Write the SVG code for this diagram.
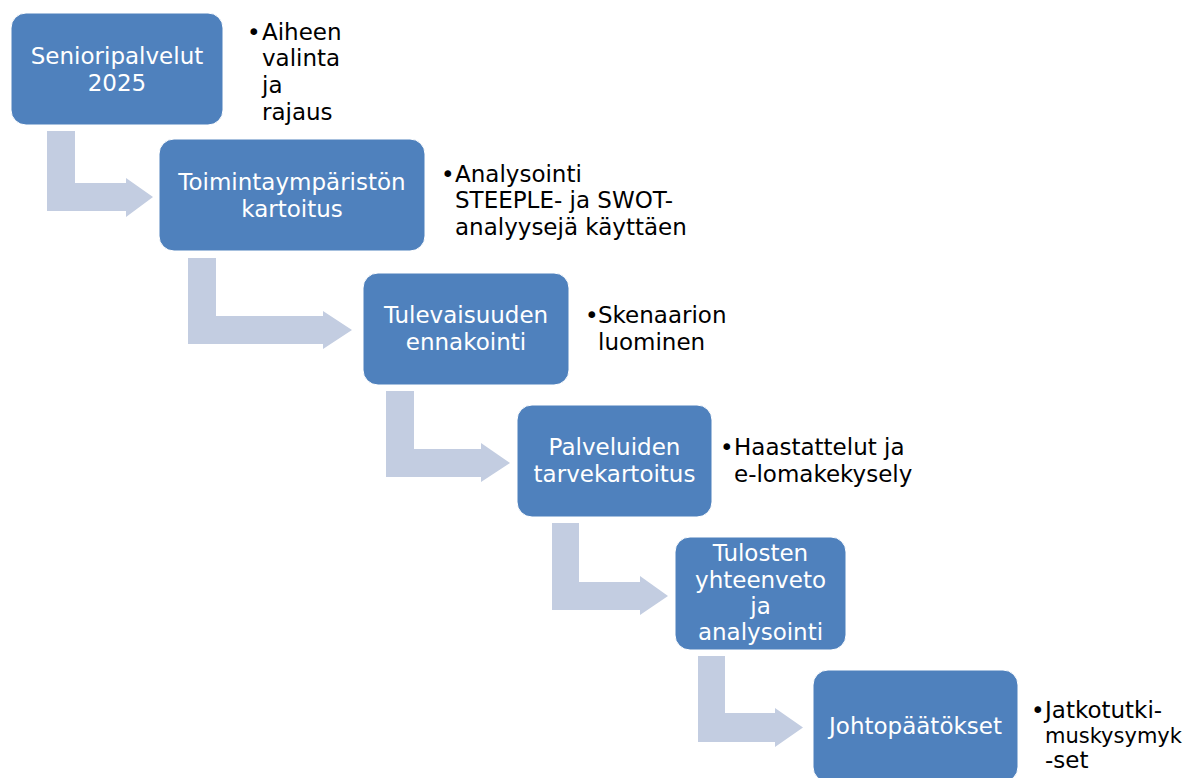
<svg xmlns="http://www.w3.org/2000/svg" width="1192" height="778" viewBox="0 0 1192 778">
<style>
.box{fill:#4F81BD;stroke:#FFFFFF;stroke-width:1}
.arr{fill:#C3CDE1}
.bt{font-family:"DejaVu Sans",Verdana,sans-serif;font-size:23px;fill:#FFFFFF;text-anchor:middle}
.nt{font-family:"DejaVu Sans",Verdana,sans-serif;font-size:23px;fill:#000000}
</style>
<rect width="1192" height="778" fill="#FFFFFF"/>
<g id="connectors">
<path class="arr" d="M47,131 H75 V183 H126 V178 L153,197 L126,217 V211 H47 Z"/>
<path class="arr" d="M188,258 H216 V316 H323 V311 L352,330 L323,349 V344 H188 Z"/>
<path class="arr" d="M386,391 H414 V449 H481 V443 L510,463 L481,482 V477 H386 Z"/>
<path class="arr" d="M552,523 H579 V582 H640 V576 L668,596 L640,615 V610 H552 Z"/>
<path class="arr" d="M698,656 H725 V713 H775 V708 L803,727.5 L775,747 V742 H698 Z"/>
</g>
<g id="n1">
<rect class="box" x="11" y="13" width="212" height="112" rx="15"/>
<text class="bt" x="117" y="64">Senioripalvelut</text>
<text class="bt" x="117" y="91">2025</text>
</g>
<g id="t1">
<text class="nt" x="247" y="40">•</text>
<text class="nt" x="262" y="40">Aiheen</text>
<text class="nt" x="262" y="66">valinta</text>
<text class="nt" x="262" y="93">ja</text>
<text class="nt" x="262" y="120">rajaus</text>
</g>
<g id="n2">
<rect class="box" x="159" y="139" width="266" height="112" rx="15"/>
<text class="bt" x="292" y="190">Toimintaympäristön</text>
<text class="bt" x="292" y="217">kartoitus</text>
</g>
<g id="t2">
<text class="nt" x="441" y="182">•</text>
<text class="nt" x="455" y="182">Analysointi</text>
<text class="nt" x="455" y="208">STEEPLE- ja SWOT-</text>
<text class="nt" x="455" y="235">analyysejä käyttäen</text>
</g>
<g id="n3">
<rect class="box" x="363" y="273" width="206" height="112" rx="15"/>
<text class="bt" x="466" y="323">Tulevaisuuden</text>
<text class="bt" x="466" y="350">ennakointi</text>
</g>
<g id="t3">
<text class="nt" x="585" y="323">•</text>
<text class="nt" x="598" y="323">Skenaarion</text>
<text class="nt" x="598" y="350">luominen</text>
</g>
<g id="n4">
<rect class="box" x="517" y="405" width="195" height="112" rx="15"/>
<text class="bt" x="614.5" y="455">Palveluiden</text>
<text class="bt" x="614.5" y="482">tarvekartoitus</text>
</g>
<g id="t4">
<text class="nt" x="720" y="455">•</text>
<text class="nt" x="734" y="455">Haastattelut ja</text>
<text class="nt" x="734" y="482">e-lomakekysely</text>
</g>
<g id="n5">
<rect class="box" x="675" y="537" width="171" height="113" rx="15"/>
<text class="bt" x="760.5" y="561">Tulosten</text>
<text class="bt" x="760.5" y="588">yhteenveto</text>
<text class="bt" x="760.5" y="614">ja</text>
<text class="bt" x="760.5" y="640">analysointi</text>
</g>
<g id="n6">
<rect class="box" x="813" y="670" width="205" height="112" rx="15"/>
<text class="bt" x="915.5" y="734">Johtopäätökset</text>
</g>
<g id="t6">
<text class="nt" x="1031" y="718">•</text>
<text class="nt" x="1045" y="718">Jatkotutki-</text>
<text class="nt" x="1045" y="743" style="font-size:21px">muskysymyk</text>
<text class="nt" x="1045" y="768">-set</text>
</g>
</svg>
